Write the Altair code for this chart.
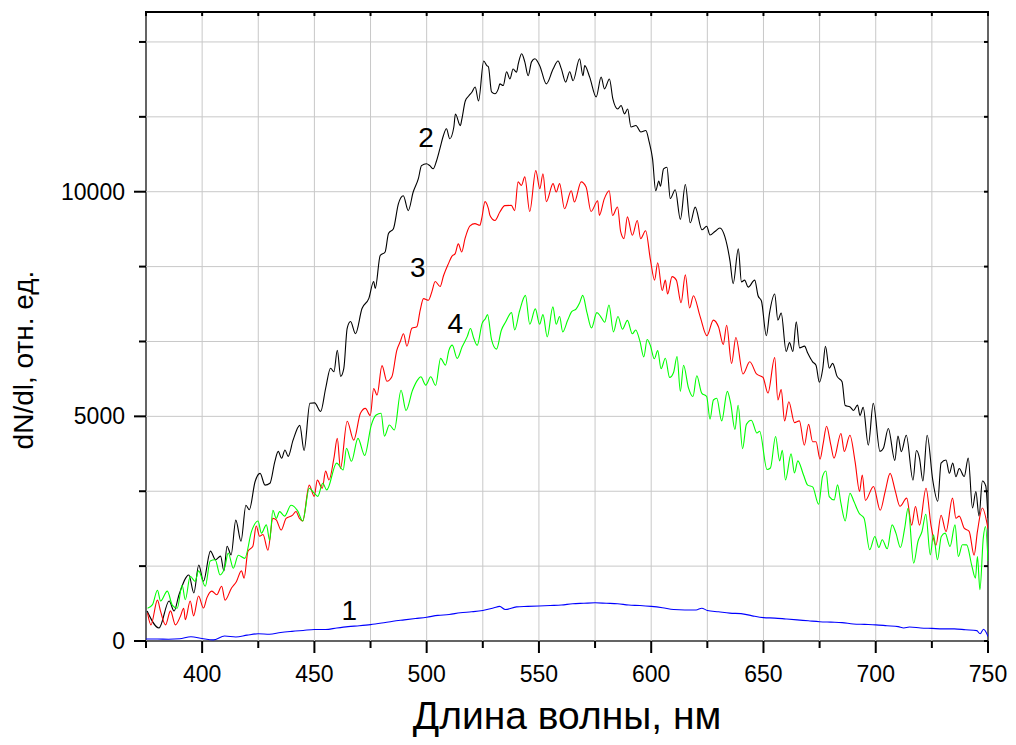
import altair as alt
import pandas as pd

# ---------------- data ----------------
wl_1 = [375, 380, 385, 390, 395, 400, 405, 410, 415, 420,
        425, 430, 435, 440, 445, 450, 455, 460, 465, 470,
        475, 480, 485, 490, 495, 500, 505, 510, 515, 520,
        525, 530, 532.5, 535, 540, 545, 550, 555, 560, 565,
        570, 575, 580, 585, 590, 595, 600, 605, 610, 615,
        620, 622.5, 625, 630, 635, 640, 645, 650, 655, 660,
        665, 670, 675, 680, 685, 690, 695, 700, 705, 710,
        712.5, 715, 720, 725, 730, 735, 740, 745, 746.5, 748,
        750]
val_1 = [45, 45, 40, 50, 95, 55, 25, 110, 90, 130,
         160, 150, 190, 215, 235, 255, 255, 290, 320, 340,
         365, 400, 440, 470, 500, 530, 570, 590, 630, 650,
         680, 740, 770, 700, 760, 770, 780, 790, 800, 830,
         840, 850, 840, 830, 800, 790, 770, 740, 700, 690,
         690, 730, 680, 650, 620, 610, 560, 520, 510, 490,
         470, 450, 430, 420, 410, 380, 370, 360, 340, 320,
         290, 310, 290, 280, 270, 270, 250, 230, 160, 260,
         100]

wl_2 = [375.5, 380.8, 385.3, 387.5, 389.7, 394.1, 396.3, 398.5, 400.6, 403.7,
        406.0, 408.2, 409.7, 411.1, 412.9, 415.0, 417.3, 419.5, 421.0, 423.6,
        425.8, 428.0, 430.2, 432.4, 433.9, 435.4, 436.9, 438.3, 440.5, 443.5,
        445.4, 448.0, 450.1, 452.8, 455.0, 457.2, 458.7, 460.2, 461.7, 463.1,
        464.6, 466.1, 468.3, 471.2, 474.2, 476.4, 477.1, 479.3, 481.5, 483.0,
        485.2, 487.4, 489.6, 491.8, 494.0, 496.3, 497.7, 499.9, 501.4, 502.9,
        504.4, 505.9, 507.4, 508.8, 510.3, 512.1, 512.8, 515.0, 515.7, 517.2,
        518.7, 520.2, 521.6, 523.1, 525.4, 526.8, 527.5, 528.9, 530.4, 531.9,
        532.6, 534.1, 535.6, 537.1, 538.5, 540.0, 540.8, 542.3, 543.7, 545.2,
        546.7, 548.2, 550.4, 553.3, 556.3, 558.5, 560.0, 561.9, 563.7, 565.2,
        568.1, 569.6, 570.4, 572.6, 575.5, 577.7, 579.2, 581.4, 582.9, 585.1,
        586.6, 588.1, 589.5, 591.0, 593.2, 595.4, 597.6, 599.1, 600.6, 602.0,
        603.4, 604.1, 605.5, 607.0, 608.5, 610.7, 613.0, 615.2, 617.4, 619.6,
        622.6, 624.7, 626.2, 628.4, 630.6, 632.8, 635.1, 636.5, 638.8, 640.2,
        641.6, 643.2, 646.1, 647.6, 649.1, 651.3, 652.7, 655.0, 656.4, 657.9,
        660.1, 661.6, 663.1, 664.6, 666.1, 668.3, 669.7, 671.9, 673.4, 674.9,
        676.4, 677.6, 679.3, 680.8, 682.8, 685.0, 686.4, 688.6, 690.1, 691.9,
        693.0, 694.4, 696.7, 698.9, 701.9, 703.4, 705.6, 708.5, 709.9, 711.4,
        713.6, 716.6, 718.1, 719.5, 721.0, 722.9, 725.4, 727.6, 729.1, 731.3,
        732.8, 734.3, 735.7, 737.2, 739.4, 741.2, 743.1, 744.6, 746.0, 747.5,
        749.0, 750.0]
val_2 = [667, 290, 890, 667, 1030, 1470, 1070, 1690, 1330, 2000,
         1807, 1890, 1560, 2110, 1918, 2690, 2220, 3020, 2920, 3550,
         3730, 3470, 3511, 4000, 4220, 4067, 4252, 4110, 4470, 4800,
         4240, 5290, 5300, 5110, 5620, 6070, 5993, 6470, 5890, 6067,
         6960, 7110, 6840, 7400, 7620, 8000, 7850, 8580, 8659, 9070,
         9178, 9730, 9910, 9580, 9993, 10290, 10580, 10622, 10580, 10510,
         10690, 10960, 11240, 11400, 11180, 11440, 11730, 11470, 11622, 12020,
         12130, 12220, 12330, 12020, 12910, 12807, 12780, 12220, 12180, 12289,
         12400, 12363, 12670, 12511, 12730, 12660, 12844, 13070, 12890, 12580,
         12890, 12960, 12800, 12400, 12730, 12910, 12733, 12440, 12670, 12470,
         12960, 12580, 12807, 12550, 12110, 12550, 12289, 12510, 12070, 11840,
         11918, 11733, 11840, 11440, 11474, 11330, 11363, 11110, 10730, 10020,
         10236, 10120, 10507, 10545, 9849, 10043, 9385, 10159, 9308, 9656,
         9153, 9231, 9037, 9115, 9192, 9000, 8457, 7955, 8728, 7993,
         8032, 7877, 8032, 7684, 7568, 6794, 7297, 7723, 7143, 7297,
         6446, 6640, 6446, 7104, 6524, 6563, 6408, 6214, 6137, 5760,
         6060, 6560, 6070, 6180, 5890, 5770, 5240, 5210, 5130, 5250,
         5020, 5200, 4360, 5290, 4220, 4290, 4730, 4020, 4560, 4215,
         4580, 3580, 4240, 4067, 3560, 4580, 3580, 3110, 3960, 4030,
         3733, 3960, 3659, 3840, 3660, 4070, 2960, 3326, 2780, 3560,
         3450, 2730]

wl_3 = [375.7, 377.2, 380.1, 381.5, 383.7, 385.9, 388.1, 390.3, 391.8, 392.5,
        394.7, 396.2, 398.4, 400.6, 402.1, 404.3, 406.5, 408.7, 410.2, 413.1,
        415.3, 417.5, 418.7, 420.4, 422.6, 424.1, 425.6, 427.1, 429.3, 431.5,
        433.0, 435.2, 437.4, 440.3, 441.8, 443.3, 444.8, 447.7, 449.9, 451.3,
        453.5, 455.0, 456.5, 458.7, 460.2, 461.6, 464.6, 467.5, 470.5, 472.7,
        474.9, 476.4, 477.9, 480.1, 482.3, 484.5, 486.7, 488.2, 489.7, 491.2,
        493.4, 495.6, 497.1, 498.6, 500.8, 502.3, 503.8, 506.0, 507.5, 509.7,
        511.2, 512.7, 514.1, 515.6, 517.1, 519.3, 521.5, 523.7, 524.5, 526.0,
        527.5, 528.2, 530.4, 532.6, 534.8, 537.7, 539.2, 540.7, 542.2, 543.7,
        545.9, 548.6, 550.4, 551.8, 553.3, 556.3, 557.7, 559.2, 561.4, 564.4,
        565.8, 568.8, 571.0, 573.2, 576.2, 576.9, 579.1, 581.3, 582.8, 585.0,
        586.4, 587.9, 589.4, 591.6, 593.8, 595.3, 597.5, 599.7, 601.5, 602.9,
        604.9, 606.3, 607.3, 609.3, 611.2, 613.3, 615.2, 617.1, 618.8, 621.8,
        624.8, 627.7, 630.0, 632.1, 633.6, 635.8, 637.7, 640.9, 643.9, 646.9,
        649.8, 652.0, 655.0, 656.4, 657.9, 659.4, 661.3, 663.8, 666.0, 668.2,
        670.1, 671.9, 673.4, 675.2, 676.6, 678.1, 680.0, 681.4, 684.5, 686.0,
        688.5, 690.8, 692.8, 694.0, 695.4, 699.0, 702.0, 704.2, 706.4, 708.6,
        710.8, 713.8, 716.0, 717.7, 719.5, 722.4, 724.6, 726.8, 729.1, 731.3,
        734.2, 735.7, 737.2, 739.4, 741.6, 743.8, 745.3, 747.5, 749.7, 750.0]
val_3 = [620, 360, 910, 659, 360, 670, 360, 548, 730, 474,
         890, 560, 1000, 733, 960, 1110, 1030, 1220, 910, 1180,
         1326, 1560, 1400, 2000, 2110, 2560, 2330, 2370, 2020, 2730,
         2696, 2470, 2730, 2800, 2882, 2733, 2670, 3470, 3220, 3580,
         3400, 3780, 3585, 4070, 4510, 3840, 4890, 4470, 5070, 5178,
         5020, 5620, 5474, 6130, 5780, 5881, 6470, 6659, 6840, 6560,
         6960, 6993, 7360, 7620, 7585, 7770, 8000, 7890, 8130, 8400,
         8560, 8622, 8840, 8659, 8960, 9240, 9289, 9252, 9400, 9780,
         9622, 9470, 9360, 9548, 9690, 9696, 9580, 10220, 10141, 10330,
         9560, 10470, 10067, 10400, 9780, 10180, 9993, 10180, 9620, 10020,
         9770, 10220, 10104, 9560, 9800, 9474, 9840, 10020, 9470, 9659,
         9110, 8956, 9440, 9030, 9360, 8956, 9130, 8470, 8032, 8419,
         7800, 8032, 7723, 8109, 8032, 7529, 8148, 7413, 7684, 7220,
         6794, 7143, 6988, 6601, 7027, 6176, 6756, 5944, 6214, 5944,
         5867, 5519, 6307, 5364, 5596, 4900, 5325, 4861, 4900, 4358,
         4822, 4436, 4436, 4049, 4400, 4780, 4363, 4070, 4620, 4220,
         4580, 3993, 3330, 3696, 3130, 3440, 2910, 3326, 3730, 3360,
         3000, 3180, 2580, 2993, 2580, 3400, 2580, 2130, 2800, 2437,
         3180, 2733, 2780, 2511, 2440, 1910, 2440, 2960, 2580, 2500]

wl_4 = [375.7, 377.9, 380.1, 381.5, 384.5, 386.7, 388.9, 391.1, 392.5, 394.7,
        396.9, 398.4, 401.4, 403.6, 405.8, 408.0, 410.2, 411.6, 413.9, 416.1,
        419.0, 422.0, 424.9, 426.4, 428.6, 430.1, 431.5, 433.0, 434.5, 436.7,
        439.6, 442.6, 444.8, 447.7, 449.9, 451.5, 453.7, 455.5, 459.9, 462.8,
        464.3, 466.5, 469.4, 472.4, 475.3, 477.5, 479.7, 481.2, 483.4, 485.6,
        488.6, 490.8, 493.7, 495.9, 497.4, 499.6, 501.8, 504.0, 506.2, 508.4,
        509.9, 511.4, 513.6, 515.8, 518.1, 519.5, 521.0, 522.5, 524.7, 526.2,
        527.1, 528.9, 531.1, 533.3, 535.1, 537.8, 539.2, 541.4, 544.0, 545.9,
        548.4, 550.3, 551.8, 553.7, 556.2, 557.7, 559.2, 560.6, 562.8, 564.6,
        566.6, 568.1, 569.5, 571.4, 573.4, 575.8, 577.5, 579.3, 581.2, 583.2,
        585.2, 587.2, 589.4, 591.6, 593.1, 595.0, 596.7, 598.2, 599.6, 601.4,
        602.9, 604.4, 606.3, 608.2, 610.0, 611.5, 613.0, 614.4, 616.6, 618.6,
        620.3, 622.5, 624.7, 626.2, 627.7, 629.2, 631.4, 633.9, 635.4, 637.3,
        638.7, 640.7, 642.4, 644.6, 647.1, 648.3, 651.6, 653.1, 655.4, 657.2,
        658.4, 659.8, 662.3, 663.8, 665.3, 667.8, 669.7, 671.9, 674.6, 676.3,
        677.8, 679.3, 681.5, 683.0, 684.5, 686.4, 688.5, 690.3, 692.6, 694.8,
        697.3, 699.6, 701.4, 702.9, 705.1, 707.3, 709.0, 711.0, 712.9, 714.4,
        716.9, 718.8, 720.6, 722.3, 724.3, 725.7, 727.5, 729.2, 730.9, 733.1,
        735.3, 736.8, 738.6, 740.5, 742.7, 744.4, 745.3, 746.4, 747.9, 748.9,
        750.0]
val_4 = [730, 810, 1130, 890, 1110, 800, 730, 1240, 919, 1440,
         1326, 1560, 1220, 1780, 1807, 1470, 1659, 1960, 1620, 1910,
         1840, 2440, 2670, 2400, 2585, 2240, 2910, 2730, 2880, 2780,
         3020, 2890, 2670, 3400, 3290, 3220, 3510, 3363, 3960, 3807,
         4290, 4000, 4510, 4130, 4800, 5029, 5070, 4560, 4807, 4696,
         5580, 5130, 5580, 5807, 5880, 5696, 5880, 5690, 6290, 6141,
         6470, 6585, 6290, 6548, 6780, 6956, 6733, 6580, 7070, 7178,
         7265, 6709, 6496, 6923, 7094, 7308, 6923, 7350, 7692, 7051,
         7393, 7051, 7265, 6769, 7436, 7051, 7222, 6880, 7137, 7333,
         7393, 7521, 7692, 7308, 6966, 7308, 7222, 7094, 7479, 6880,
         7222, 6940, 7137, 6838, 6923, 6667, 6325, 6709, 6581, 6282,
         6462, 6060, 6292, 5867, 5983, 6331, 5557, 6137, 5635, 5441,
         5905, 5518, 5441, 4938, 5364, 5403, 4900, 5557, 5287, 4706,
         5248, 4281, 4822, 4915, 4629, 4670, 3817, 3850, 4552, 4010,
         4242, 3585, 4165, 3740, 4010, 3701, 3469, 3430, 3044, 3660,
         3785, 3215, 3140, 3475, 3067, 2674, 3290, 3104, 2844, 2733,
         2030, 2326, 2081, 2252, 2052, 2585, 2400, 2081, 2511, 2955,
         1733, 2215, 2437, 2822, 1918, 2363, 1807, 2326, 2400, 2104,
         2585, 1881, 2141, 2140, 1696, 1400, 1880, 1141, 2290, 2548,
         1778]

series_names = ["1", "2", "3", "4"]
series_colors = ["#0000ff", "#000000", "#ff0000", "#00ff00"]

x_major = [400, 450, 500, 550, 600, 650, 700, 750]
x_minor = [375, 425, 475, 525, 575, 625, 675, 725]
x_major_labels = ["400", "450", "500", "550", "600", "650", "700", "750"]
y_major = [0, 5000, 10000]
y_minor = [1666.67, 3333.33, 6666.67, 8333.33, 11666.67, 13333.33]
y_major_labels = ["0", "5000", "10000"]

x_title = "Длина волны, нм"
y_title = "dN/dl, отн. ед."

lbl_text = ["1", "2", "3", "4"]
lbl_wl = [465.5, 499.7, 496.0, 512.7]
lbl_val = [644, 11178, 8274, 7030]

# ---------------- build tables ----------------
frames = []
for name, wl, val in [("2", wl_2, val_2), ("3", wl_3, val_3), ("4", wl_4, val_4), ("1", wl_1, val_1)]:
    assert len(wl) == len(val), (name, len(wl), len(val))
    frames.append(pd.DataFrame({"wl": wl, "val": val, "series": name}))
df = pd.concat(frames, ignore_index=True)

x_ticks = sorted(x_major + x_minor)
y_ticks = sorted(y_major + y_minor)

FONT = "Liberation Sans"
W, H = 842, 629
PAD_L, PAD_T, PAD_R, PAD_B = 138, 4, 20, 96
xscale = alt.Scale(domain=[375, 750], nice=False, zero=False)
yscale = alt.Scale(domain=[0, 14000], nice=False, zero=False)
GRID = "#c8c8c8"


def xrule(vals, y0, y1, color="black", width=2):
    return alt.Chart(pd.DataFrame({"t": vals})).mark_rule(color=color, strokeWidth=width).encode(
        x=alt.X("t:Q", scale=xscale, axis=None), y=alt.value(y0), y2=alt.value(y1)
    )


def yrule(vals, x0, x1, color="black", width=2):
    return alt.Chart(pd.DataFrame({"t": vals})).mark_rule(color=color, strokeWidth=width).encode(
        y=alt.Y("t:Q", scale=yscale, axis=None), x=alt.value(x0), x2=alt.value(x1)
    )


grid_layers = [xrule(x_ticks, 0, H, GRID, 1), yrule(y_ticks, 0, W, GRID, 1)]

lines = alt.Chart(df).mark_line(strokeWidth=1.1, interpolate="monotone", clip=True).encode(
    x=alt.X("wl:Q", scale=xscale, axis=None),
    y=alt.Y("val:Q", scale=yscale, axis=None),
    color=alt.Color("series:N", scale=alt.Scale(domain=series_names, range=series_colors), legend=None),
)

tick_layers = [
    xrule(x_major, H, H + 12), xrule(x_minor, H, H + 7),
    yrule(y_major, -12, 0), yrule(y_minor, -7, 0),
    xrule(x_ticks, 0, 4), yrule(y_ticks, W - 4, W),
]

x_tick_text = alt.Chart(pd.DataFrame({"t": x_major, "s": x_major_labels})).mark_text(
    font=FONT, fontSize=23, color="black", align="center", baseline="alphabetic"
).encode(x=alt.X("t:Q", scale=xscale, axis=None), y=alt.value(H + 41), text="s:N")

y_tick_text = alt.Chart(pd.DataFrame({"t": y_major, "s": y_major_labels})).mark_text(
    font=FONT, fontSize=23, color="black", align="right", baseline="alphabetic", dy=8
).encode(y=alt.Y("t:Q", scale=yscale, axis=None), x=alt.value(-21), text="s:N")

titles = alt.Chart(pd.DataFrame({"s": [x_title]})).mark_text(
    font=FONT, fontSize=39, color="black", align="center", baseline="alphabetic"
).encode(x=alt.value(W / 2), y=alt.value(H + 88), text="s:N")

ytitle = alt.Chart(pd.DataFrame({"s": [y_title]})).mark_text(
    font=FONT, fontSize=28, color="black", align="center", baseline="alphabetic", angle=270
).encode(x=alt.value(-113), y=alt.value(348), text="s:N")

labels = alt.Chart(pd.DataFrame({"t": lbl_text, "x": lbl_wl, "y": lbl_val})).mark_text(
    font=FONT, fontSize=28, color="black", align="center", baseline="middle"
).encode(
    x=alt.X("x:Q", scale=xscale, axis=None),
    y=alt.Y("y:Q", scale=yscale, axis=None),
    text="t:N",
)

chart = alt.layer(*grid_layers, lines, *tick_layers, x_tick_text, y_tick_text, titles, ytitle, labels).properties(
    width=W, height=H,
    autosize=alt.AutoSizeParams(type="none"),
    padding={"left": PAD_L, "top": PAD_T, "right": PAD_R, "bottom": PAD_B},
    background="white",
).configure_view(stroke="black", strokeWidth=2)

chart.save("out.html", embed_options={"renderer": "svg", "actions": False})
